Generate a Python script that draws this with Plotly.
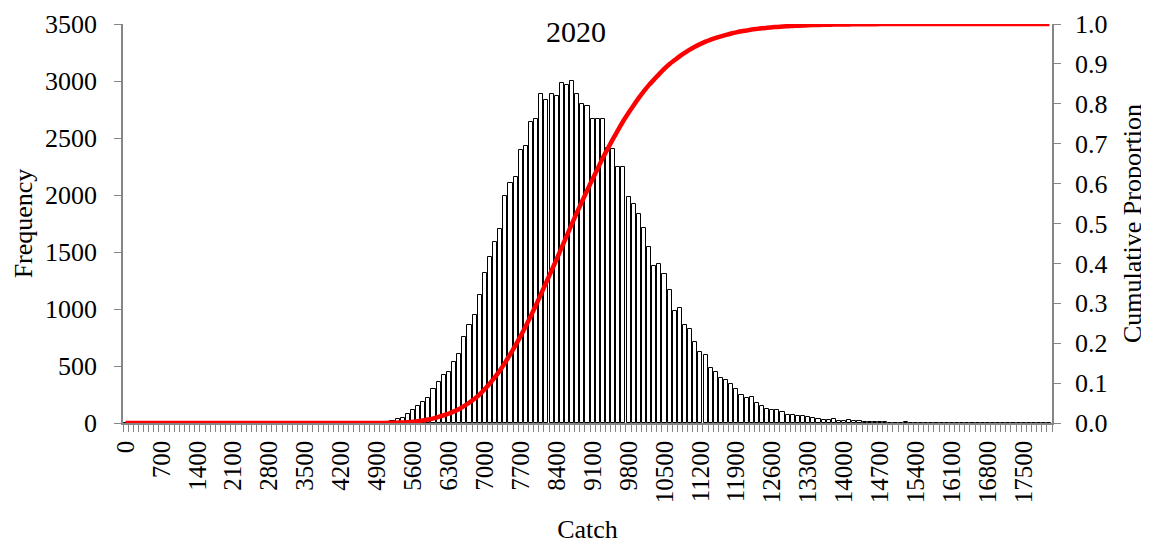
import plotly.graph_objects as go

# Catch bins (category values), every 100
catch_bins = list(range(0, 18100, 100))

# Frequency per bin
frequency = [
    0, 0, 0, 0, 0, 0, 0, 0, 0, 0,
    0, 0, 0, 0, 0, 0, 0, 0, 0, 0,
    0, 0, 0, 0, 0, 0, 0, 0, 0, 0,
    0, 0, 0, 0, 0, 0, 0, 0, 0, 0,
    0, 0, 0, 0, 0, 0, 0, 2, 3, 5,
    8, 13, 20, 34, 40, 82, 112, 149, 183, 219,
    295, 356, 418, 444, 535, 602, 757, 864, 944, 1121,
    1313, 1460, 1587, 1704, 1991, 2102, 2157, 2391, 2429, 2643,
    2663, 2883, 2833, 2883, 2868, 2985, 2961, 2997, 2888, 2795,
    2777, 2663, 2663, 2663, 2415, 2400, 2248, 2248, 1979, 1918,
    1836, 1707, 1546, 1377, 1391, 1310, 1166, 980, 1006, 862,
    827, 713, 620, 594, 480, 444, 392, 374, 343, 301,
    250, 217, 225, 173, 152, 123, 114, 111, 96, 70,
    67, 64, 58, 53, 41, 38, 26, 29, 32, 15,
    15, 23, 15, 15, 9, 9, 12, 12, 6, 3,
    3, 3, 5, 2, 2, 1, 0, 0, 0, 0,
    0, 0, 0, 0, 0, 0, 0, 0, 0, 0,
    0, 0, 0, 0, 0, 0, 0, 0, 0, 0,
    0,
]

# Cumulative proportion derived from the frequencies
total = sum(frequency)
cumulative = []
running = 0
for f in frequency:
    running += f
    cumulative.append(running / total)

tick_labels_vals = catch_bins[::7]
tick_labels_text = [str(v) for v in tick_labels_vals]

FONT = "Liberation Serif, Times New Roman, serif"
AXIS_GREY = "#868686"

fig = go.Figure()
fig.add_trace(go.Bar(
    x=catch_bins, y=frequency, width=80,
    marker=dict(color="white", line=dict(color="black", width=1)),
    name="Frequency", showlegend=False,
))
fig.add_trace(go.Scatter(
    x=catch_bins, y=cumulative, yaxis="y2", mode="lines",
    line=dict(color="#FF0000", width=4.5, shape="spline"),
    name="Cumulative Proportion", showlegend=False,
))

# page body has an 8px default margin, so the figure is 8px smaller
fig.update_layout(
    width=1141, height=536,
    margin=dict(l=115, r=97, t=16, b=121),
    paper_bgcolor="white", plot_bgcolor="white",
    font=dict(family=FONT, size=26, color="black"),
    xaxis=dict(
        range=[-50, 18050], automargin=False,
        tickmode="array", tickvals=tick_labels_vals, ticktext=tick_labels_text,
        tickangle=-90, ticks="", showgrid=False, zeroline=False,
        showline=True, linecolor=AXIS_GREY, linewidth=1.5,
        minor=dict(tick0=-50, dtick=100, ticks="outside", ticklen=7,
                   tickcolor=AXIS_GREY, tickwidth=1, showgrid=False),
        ticklabelstandoff=6,
        tickfont=dict(family=FONT, size=25),
        title=dict(text="Catch", font=dict(family=FONT, size=26), standoff=18),
    ),
    yaxis=dict(
        range=[0, 3500], dtick=500, tick0=0, automargin=False,
        ticks="outside", ticklen=7, tickcolor=AXIS_GREY,
        showgrid=False, zeroline=False,
        showline=True, linecolor=AXIS_GREY, linewidth=1.5,
        ticklabelstandoff=12,
        tickfont=dict(family=FONT, size=26),
        title=dict(text="Frequency", font=dict(family=FONT, size=26), standoff=5),
    ),
    yaxis2=dict(
        range=[0, 1], dtick=0.1, tick0=0, tickformat=".1f", automargin=False,
        overlaying="y", side="right",
        ticks="outside", ticklen=7, tickcolor=AXIS_GREY,
        showgrid=False, zeroline=False,
        showline=True, linecolor=AXIS_GREY, linewidth=1.5,
        ticklabelstandoff=9,
        tickfont=dict(family=FONT, size=26),
        title=dict(text="Cumulative Proportion", font=dict(family=FONT, size=26), standoff=16),
    ),
    bargap=0,
    annotations=[dict(
        text="2020", x=0.4876, y=0.98, xref="paper", yref="paper",
        xanchor="center", yanchor="middle", showarrow=False,
        font=dict(family=FONT, size=30, color="black"),
    )],
)

fig.write_html("out.html")
